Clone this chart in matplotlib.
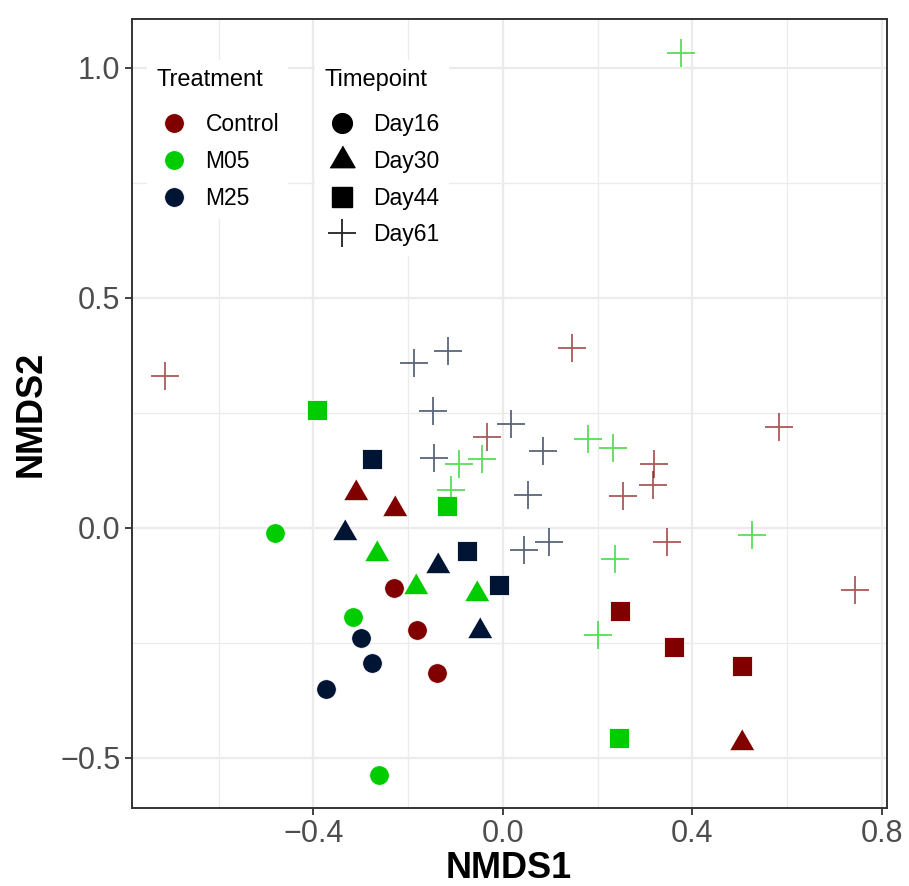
import matplotlib
matplotlib.use("Agg")
import matplotlib.pyplot as plt
from matplotlib.lines import Line2D
from matplotlib.ticker import FixedLocator

plt.rcParams['font.family'] = ['Liberation Sans', 'DejaVu Sans']

# ---------------- data ----------------
treatments = ["Control", "M05", "M25"]
timepoints = ["Day16", "Day30", "Day44", "Day61"]
colors = {"Control": "#800000", "M05": "#00CC00", "M25": "#001433"}

nmds1 = [
    # Day16
    -0.229, -0.182, -0.139,
    -0.482, -0.317, -0.261,
    -0.300, -0.276, -0.374,
    # Day30
    -0.311, -0.227, 0.504,
    -0.266, -0.184, -0.054,
    -0.333, -0.138, -0.049,
    # Day44
    0.247, 0.362, 0.504,
    -0.393, -0.118, 0.245,
    -0.276, -0.075, -0.008,
    # Day61
    -0.714, -0.034, 0.146, 0.582, 0.318, 0.316, 0.254, 0.347, 0.743,
    -0.092, -0.045, -0.110, 0.179, 0.233, 0.526, 0.236, 0.200, 0.376,
    -0.187, -0.115, -0.148, -0.146, 0.017, 0.084, 0.052, 0.097, 0.045,
]
nmds2 = [
    -0.132, -0.222, -0.315,
    -0.012, -0.194, -0.537,
    -0.240, -0.293, -0.350,
    0.075, 0.041, -0.467,
    -0.057, -0.128, -0.143,
    -0.012, -0.083, -0.224,
    -0.180, -0.259, -0.300,
    0.257, 0.047, -0.457,
    0.150, -0.050, -0.124,
    0.330, 0.197, 0.390, 0.219, 0.138, 0.092, 0.069, -0.032, -0.135,
    0.138, 0.150, 0.083, 0.193, 0.173, -0.015, -0.068, -0.233, 1.033,
    0.358, 0.385, 0.255, 0.152, 0.225, 0.167, 0.072, -0.032, -0.048,
]
treatment = (["Control"] * 3 + ["M05"] * 3 + ["M25"] * 3) * 3 + \
    ["Control"] * 9 + ["M05"] * 9 + ["M25"] * 9
timepoint = ["Day16"] * 9 + ["Day30"] * 9 + ["Day44"] * 9 + ["Day61"] * 27

x_ticks = [-0.4, 0.0, 0.4, 0.8]
y_ticks = [-0.5, 0.0, 0.5, 1.0]

# ---------------- styles ----------------
tri = [(-1, -0.577), (1, -0.577), (0, 1.155)]
marker_of = {"Day16": "o", "Day30": tri, "Day44": "s", "Day61": "+"}
size_of = {"Day16": 200, "Day30": 430, "Day44": 225, "Day61": 410}

fig = plt.figure(figsize=(9.09, 8.86), dpi=100)
ax = fig.add_axes([131.5 / 909, 1 - 808.3 / 886, (886.7 - 131.5) / 909, (808.3 - 18.7) / 886])

for tp in timepoints:
    for tr in treatments:
        xs = [x for x, a, b in zip(nmds1, treatment, timepoint) if a == tr and b == tp]
        ys = [y for y, a, b in zip(nmds2, treatment, timepoint) if a == tr and b == tp]
        if tp == "Day61":
            ax.scatter(xs, ys, marker="+", s=size_of[tp], c=colors[tr],
                       linewidths=1.3, alpha=0.65, zorder=3)
        else:
            ax.scatter(xs, ys, marker=marker_of[tp], s=size_of[tp], c=colors[tr],
                       linewidths=0.6, edgecolors="white", zorder=3)

ax.set_xlim(-0.784, 0.81)
ax.set_ylim(-0.61, 1.107)
ax.xaxis.set_major_locator(FixedLocator(x_ticks))
ax.yaxis.set_major_locator(FixedLocator(y_ticks))
ax.xaxis.set_minor_locator(FixedLocator([-0.6, -0.2, 0.2, 0.6]))
ax.yaxis.set_minor_locator(FixedLocator([-0.25, 0.25, 0.75]))
ax.set_xticklabels(["\u22120.4", "0.0", "0.4", "0.8"])
ax.set_yticklabels(["\u22120.5", "0.0", "0.5", "1.0"])

ax.grid(which="major", color="#ebebeb", linewidth=1.6, zorder=0)
ax.grid(which="minor", color="#ebebeb", linewidth=0.9, zorder=0)
ax.set_axisbelow(True)
ax.tick_params(which="major", direction="out", length=5, width=1.3, color="#333333",
               labelsize=22, labelcolor="#4d4d4d", pad=3)
ax.tick_params(which="minor", length=0)
for sp in ax.spines.values():
    sp.set_color("#333333")
    sp.set_linewidth(1.4)

ax.set_xlabel("NMDS1", fontsize=26, fontweight="bold", labelpad=1)
ax.set_ylabel("NMDS2", fontsize=26, fontweight="bold", labelpad=8)

# ---------------- legends ----------------
leg_kw = dict(loc="upper left", bbox_transform=fig.transFigure,
              fontsize=16.5, title_fontsize=17, frameon=True, framealpha=1,
              edgecolor="none", facecolor="white", fancybox=False,
              labelspacing=0.6, handlelength=1.55, handletextpad=0.6,
              borderpad=0.4, borderaxespad=0)

h_tr = [Line2D([], [], marker="o", linestyle="none", markersize=14.2,
               markerfacecolor=colors[t], markeredgecolor="white", markeredgewidth=0.6)
        for t in treatments]
leg1 = ax.legend(h_tr, treatments, title="Treatment",
                 bbox_to_anchor=(147 / 909, 1 - 60 / 886), **leg_kw)
leg1._legend_box.align = "left"
leg1._legend_box.sep += 6
leg1.set_zorder(5)
ax.add_artist(leg1)

h_tp = [
    Line2D([], [], marker="o", linestyle="none", markersize=14.2, color="black"),
    Line2D([], [], marker=tri, linestyle="none", markersize=20.7, color="black"),
    Line2D([], [], marker="s", linestyle="none", markersize=15, color="black"),
    Line2D([], [], marker="+", linestyle="none", markersize=20.2, color="#222222",
           markeredgewidth=1.3),
]
leg2 = ax.legend(h_tp, timepoints, title="Timepoint",
                 bbox_to_anchor=(315 / 909, 1 - 60 / 886), **leg_kw)
leg2._legend_box.align = "left"
leg2._legend_box.sep += 6
leg2.set_zorder(5)

fig.savefig("out.png", dpi=100)
